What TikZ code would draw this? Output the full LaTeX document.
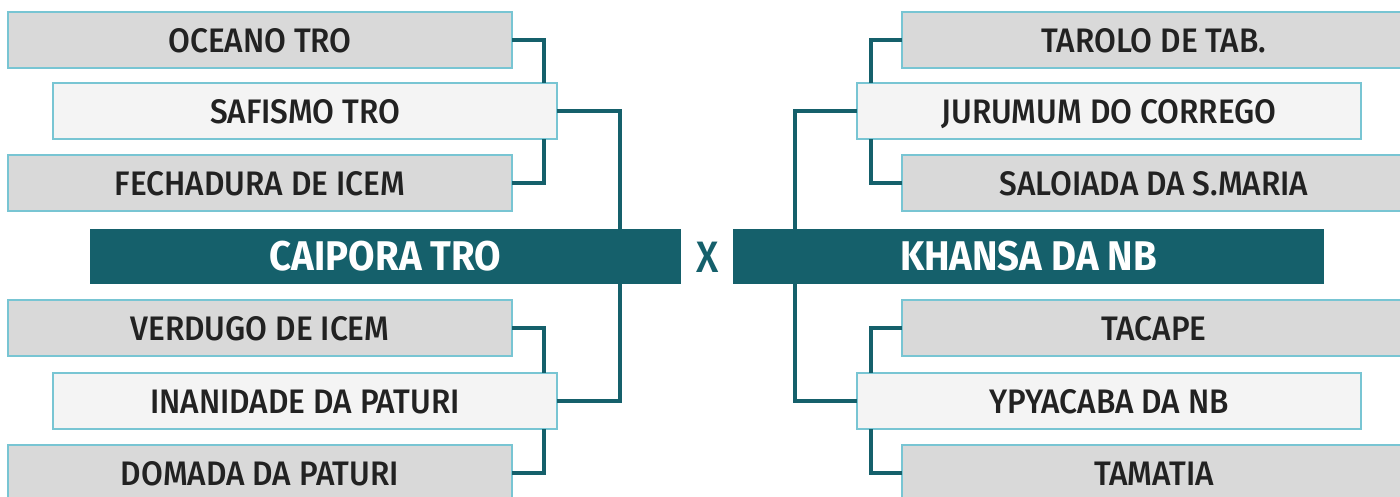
\documentclass[tikz,border=0pt]{standalone}
\usepackage{fontspec}
\setmainfont{Fira Sans}
\newfontfamily\labfont{Fira Sans}[UprightFont=* Medium, FakeStretch=0.93]
\newfontfamily\headfont{Fira Sans}[UprightFont=* Bold, FakeStretch=0.925]
\newfontfamily\vsfont{Fira Sans}[UprightFont=* Medium, FakeStretch=0.9]
\usetikzlibrary{calc}
\definecolor{teal1}{HTML}{15606B}
\definecolor{edge1}{HTML}{78C5D3}
\definecolor{gray1}{HTML}{D9D9D9}
\definecolor{light1}{HTML}{F4F4F4}
\definecolor{txt1}{HTML}{222222}
\tikzset{
  teambox/.style={rectangle, draw=edge1, line width=2.5pt, outer sep=0pt, inner sep=0pt,
    minimum width=504pt, minimum height=56pt, anchor=north west, text=txt1,
    text height=25.4pt, text depth=0pt,
    font=\labfont\fontsize{34}{34}\selectfont},
  outerbox/.style={teambox, fill=gray1},
  innerbox/.style={teambox, fill=light1},
  headbox/.style={rectangle, fill=teal1, outer sep=0pt, inner sep=0pt,
    minimum width=591pt, minimum height=55pt, anchor=north west, text=white,
    font=\headfont\fontsize{41.5}{41.5}\selectfont},
  conn/.style={draw=teal1, line width=4pt}
}
\begin{document}
\begin{tikzpicture}[x=1pt,y=-1pt]
\useasboundingbox (0,0) rectangle (1400,497);
\clip (0,0) rectangle (1400,497);
% left
\node[outerbox] (oceano) at (8,12) {OCEANO TRO};
\node[innerbox] (safismo) at (53,83) {SAFISMO TRO};
\node[outerbox] (fechadura) at (8,155) {FECHADURA DE ICEM};
\node[headbox] (caipora) at (90,229) {CAIPORA TRO};
\node[outerbox] (verdugo) at (8,300) {VERDUGO DE ICEM};
\node[innerbox] (inanidade) at (53,373) {INANIDADE DA PATURI};
\node[outerbox] (domada) at (8,445) {DOMADA DA PATURI};
% right
\node[outerbox] (tarolo) at (902,12) {TAROLO DE TAB.};
\node[innerbox] (jurumum) at (857,83) {JURUMUM DO CORREGO};
\node[outerbox] (saloiada) at (902,155) {SALOIADA DA S.MARIA};
\node[headbox] (khansa) at (733,229) {KHANSA DA NB};
\node[outerbox] (tacape) at (902,300) {TACAPE};
\node[innerbox] (ypyacaba) at (857,373) {YPYACABA DA NB};
\node[outerbox] (tamatia) at (902,445) {TAMATIA};
% versus
\node[text=teal1, font=\vsfont\fontsize{44}{44}\selectfont] (vs) at (707.5,257) {X};
% connectors left
\draw[conn] (oceano.east) -| ([xshift=-13pt]safismo.north east);
\draw[conn] (fechadura.east) -| ([xshift=-13pt]safismo.south east);
\draw[conn] (safismo.east) -| ([xshift=-61pt]caipora.north east);
\draw[conn] (verdugo.east) -| ([xshift=-13pt]inanidade.north east);
\draw[conn] (domada.east) -| ([xshift=-13pt]inanidade.south east);
\draw[conn] (inanidade.east) -| ([xshift=-61pt]caipora.south east);
% connectors right
\draw[conn] (tarolo.west) -| ([xshift=14pt]jurumum.north west);
\draw[conn] (saloiada.west) -| ([xshift=14pt]jurumum.south west);
\draw[conn] (jurumum.west) -| ([xshift=62pt]khansa.north west);
\draw[conn] (tacape.west) -| ([xshift=14pt]ypyacaba.north west);
\draw[conn] (tamatia.west) -| ([xshift=14pt]ypyacaba.south west);
\draw[conn] (ypyacaba.west) -| ([xshift=62pt]khansa.south west);
\end{tikzpicture}
\end{document}
